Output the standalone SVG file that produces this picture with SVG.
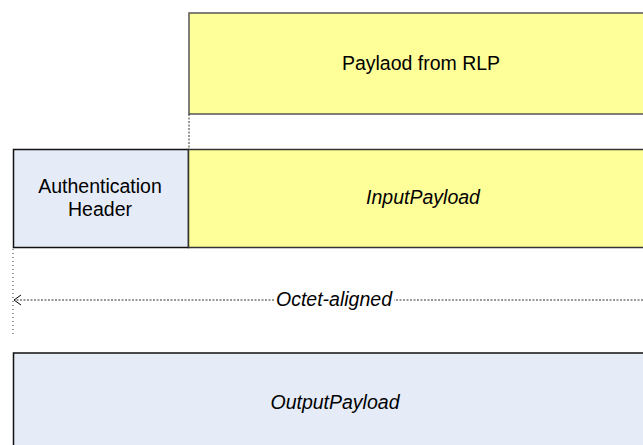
<svg xmlns="http://www.w3.org/2000/svg" width="643" height="445" viewBox="0 0 643 445">
<style>
.t{font-family:"Liberation Sans",Arial,sans-serif;font-size:19.5px;fill:#000;text-anchor:middle}
.i{font-style:italic}
.y{fill:#FFFF99;stroke:#555;stroke-width:1.5}
.b{fill:#E6ECF7;stroke:#111;stroke-width:1.5}
.d{stroke:#333;stroke-width:1;fill:none;stroke-dasharray:2,1.5}
</style>
<defs>
<marker id="a" markerWidth="10" markerHeight="12" refX="8" refY="6" orient="auto" markerUnits="userSpaceOnUse">
<path d="M1,1 L8,6 L1,11" fill="none" stroke="#000" stroke-width="1"/>
</marker>
</defs>
<g id="rlp">
<rect class="y" x="189" y="13" width="460" height="101"/>
<text class="t" x="421" y="70">Paylaod from RLP</text>
</g>
<g id="auth">
<rect class="b" x="13.5" y="149.5" width="175" height="98"/>
<text class="t" x="100" y="193">Authentication</text>
<text class="t" x="100" y="216">Header</text>
</g>
<g id="input">
<rect class="y" x="188.5" y="149.5" width="460" height="98" style="stroke:#333"/>
<text class="t i" x="423" y="204">InputPayload</text>
</g>
<g id="output">
<rect class="b" x="13.5" y="353" width="640" height="100"/>
<text class="t i" x="335" y="409">OutputPayload</text>
</g>
<g id="connectors">
<line class="d" x1="189" y1="114" x2="189" y2="149"/>
<line class="d" x1="13" y1="249" x2="13" y2="334" style="stroke-dasharray:1,3"/>
<line class="d" x1="643" y1="300" x2="394" y2="300"/>
<line class="d" x1="274" y1="300" x2="14" y2="300" marker-end="url(#a)"/>
<text class="t i" x="334" y="306">Octet-aligned</text>
</g>
</svg>
